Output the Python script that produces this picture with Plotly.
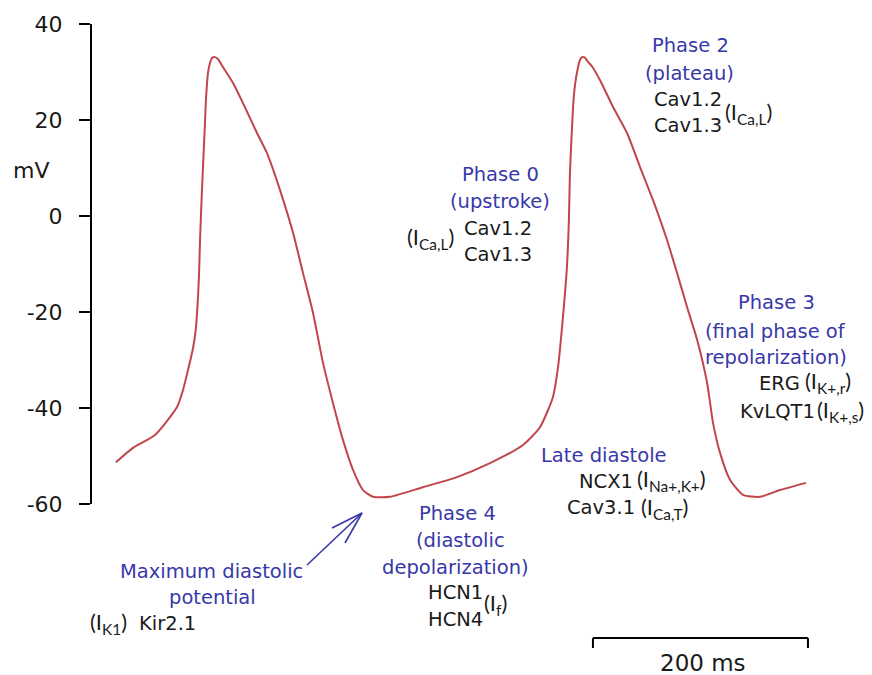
import plotly.graph_objects as go

# Time (ms) and membrane potential (mV)
time_ms = [22.3, 38.1, 58.6, 79.1, 84.6, 89.3, 94.0, 96.7, 98.6, 99.6, 100.5, 102.3, 105.1,
           106.0, 107.9, 109.8, 111.6, 114.4, 117.2, 121.9, 131.2, 140.5, 153.5, 162.8,
           174.9, 187.0, 196.3, 205.6, 214.9, 224.2, 233.5, 242.8, 252.1, 261.4, 277.2,
           307.9, 339.5, 370.2, 400.9, 416.7, 428.8, 433.5, 438.1, 441.8, 443.7, 444.6,
           447.5, 449.3, 452.1, 453.9, 455.9, 458.5, 461.4, 465.0, 472.6, 484.7, 497.7,
           509.8, 521.9, 534.9, 544.3, 553.6, 562.9, 572.2, 577.7, 584.3, 593.6, 605.6,
           621.4, 640.0, 664.2]
voltage_mv = [-51.3, -48.3, -45.6, -39.8, -36.3, -32.1, -27.5, -23.3, -16.9, -12.0, -5.0, 5.4,
              19.4, 24.2, 29.8, 31.9, 32.9, 33.1, 32.7, 31.0, 27.7, 23.5, 17.3, 13.1,
              5.4, -3.5, -11.9, -20.2, -30.6, -39.0, -46.7, -52.9, -57.1, -58.5, -58.5,
              -56.5, -54.4, -51.5, -47.7, -44.0, -37.7, -31.5, -21.0, -10.6, -0.2, 9.0,
              22.7, 27.3, 31.0, 32.5, 33.1, 33.0, 32.1, 31.2, 28.3, 22.7, 17.3,
              10.2, 3.3, -5.0, -11.9, -19.0, -25.8, -34.8, -43.1, -49.4, -55.0, -58.1,
              -58.5, -57.1, -55.6]

y_ticks = [-60, -40, -20, 0, 20, 40]
scale_bar_start_ms = 466
scale_bar_ms = 200

W, H = 872, 675
ML, MR, MT, MB = 92, 12, 24, 171
PW, PH = W - ML - MR, H - MT - MB

BLUE = "#3838a8"
BLACK = "#1a1a1a"
SANS = "DejaVu Sans"
CAL = "Lato"
CAL_SIZE = 22


def P(px, py):
    return (px - ML) / PW, (MT + PH - py) / PH


fig = go.Figure()
fig.add_trace(go.Scatter(x=time_ms, y=voltage_mv, mode="lines",
                         line=dict(color="#c0464c", width=2, shape="spline", smoothing=0.6),
                         hoverinfo="skip", showlegend=False))

annotations = []


def txt(text, px, py, color=BLACK, font=SANS, size=19.5, xanchor="center"):
    x, y = P(px, py)
    annotations.append(dict(text=text, x=x, y=y, xref="paper", yref="paper",
                            xanchor=xanchor, yanchor="middle", showarrow=False,
                            font=dict(family=font, size=size, color=color)))


txt("mV", 31, 170, size=22)

# Phase 0
txt("Phase 0", 500, 174, BLUE)
txt("(upstroke)", 500, 201, BLUE)
txt("Cav1.2", 498, 228)
txt("Cav1.3", 498, 255)
txt("(I<sub>Ca,L</sub>)", 456, 238, font=CAL, size=CAL_SIZE, xanchor="right")

# Phase 2
txt("Phase 2", 690, 46, BLUE)
txt("(plateau)", 689, 74, BLUE)
txt("Cav1.2", 688, 99)
txt("Cav1.3", 688, 125)
txt("(I<sub>Ca,L</sub>)", 723, 113, font=CAL, size=CAL_SIZE, xanchor="left")

# Phase 3
txt("Phase 3", 776, 302, BLUE)
txt("(final phase of", 775, 331, BLUE)
txt("repolarization)", 776, 357, BLUE)
txt("ERG", 802, 383, xanchor="right")
txt("(I<sub>K+,r</sub>)", 803, 382, font=CAL, size=CAL_SIZE, xanchor="left")
txt("KvLQT1", 817, 411, xanchor="right")
txt("(I<sub>K+,s</sub>)", 815, 411, font=CAL, size=CAL_SIZE, xanchor="left")

# Late diastole
txt("Late diastole", 604, 455, BLUE)
txt("NCX1", 635, 481, xanchor="right")
txt("(I<sub>Na+,K+</sub>)", 635, 480, font=CAL, size=CAL_SIZE, xanchor="left")
txt("Cav3.1", 637, 507, xanchor="right")
txt("(I<sub>Ca,T</sub>)", 639, 508, font=CAL, size=CAL_SIZE, xanchor="left")

# Phase 4
txt("Phase 4", 457, 513, BLUE)
txt("(diastolic", 460, 540, BLUE)
txt("depolarization)", 455, 567, BLUE)
txt("HCN1", 455, 592)
txt("HCN4", 455, 619)
txt("(I<sub>f</sub>)", 482, 604, font=CAL, size=CAL_SIZE, xanchor="left")

# Maximum diastolic potential
txt("Maximum diastolic", 211, 571, BLUE)
txt("potential", 212, 597, BLUE)
txt("(I<sub>K1</sub>)", 88, 623, font=CAL, size=CAL_SIZE, xanchor="left")
txt("Kir2.1", 137, 623, xanchor="left")

# Scale bar label
txt("200 ms", 703, 663, size=23)

shapes = []


def seg(p0, p1, color, width):
    x0, y0 = P(*p0)
    x1, y1 = P(*p1)
    shapes.append(dict(type="line", xref="paper", yref="paper", x0=x0, y0=y0, x1=x1, y1=y1,
                       line=dict(color=color, width=width)))


# arrow to maximum diastolic potential
tip = (362, 513)
seg((307, 565), tip, BLUE, 1.6)
seg((332, 528), tip, BLUE, 1.6)
seg((345, 543), tip, BLUE, 1.6)

# scale bar (data x, paper y)
_, yb = P(0, 638)
_, yt = P(0, 648)
sb0, sb1 = scale_bar_start_ms, scale_bar_start_ms + scale_bar_ms
shapes.append(dict(type="line", xref="x", yref="paper", x0=sb0, x1=sb1, y0=yb, y1=yb,
                   line=dict(color="black", width=2)))
shapes.append(dict(type="line", xref="x", yref="paper", x0=sb0, x1=sb0, y0=yb, y1=yt,
                   line=dict(color="black", width=2)))
shapes.append(dict(type="line", xref="x", yref="paper", x0=sb1, x1=sb1, y0=yb, y1=yt,
                   line=dict(color="black", width=2)))

fig.update_layout(
    width=W, height=H,
    margin=dict(l=ML, r=MR, t=MT, b=MB, pad=0),
    paper_bgcolor="white", plot_bgcolor="white",
    annotations=annotations, shapes=shapes,
    xaxis=dict(visible=False, range=[0, PW * 200 / 215], fixedrange=True),
    yaxis=dict(range=[-60, 40], tickvals=y_ticks, ticktext=[str(v) for v in y_ticks],
               showline=True, linecolor="black", linewidth=2, ticks="outside",
               ticklen=11, tickwidth=2, tickcolor="black", showgrid=False, zeroline=False,
               tickfont=dict(family=SANS, size=22, color=BLACK), ticklabelstandoff=12,
               fixedrange=True),
)

fig.write_html("out.html")
